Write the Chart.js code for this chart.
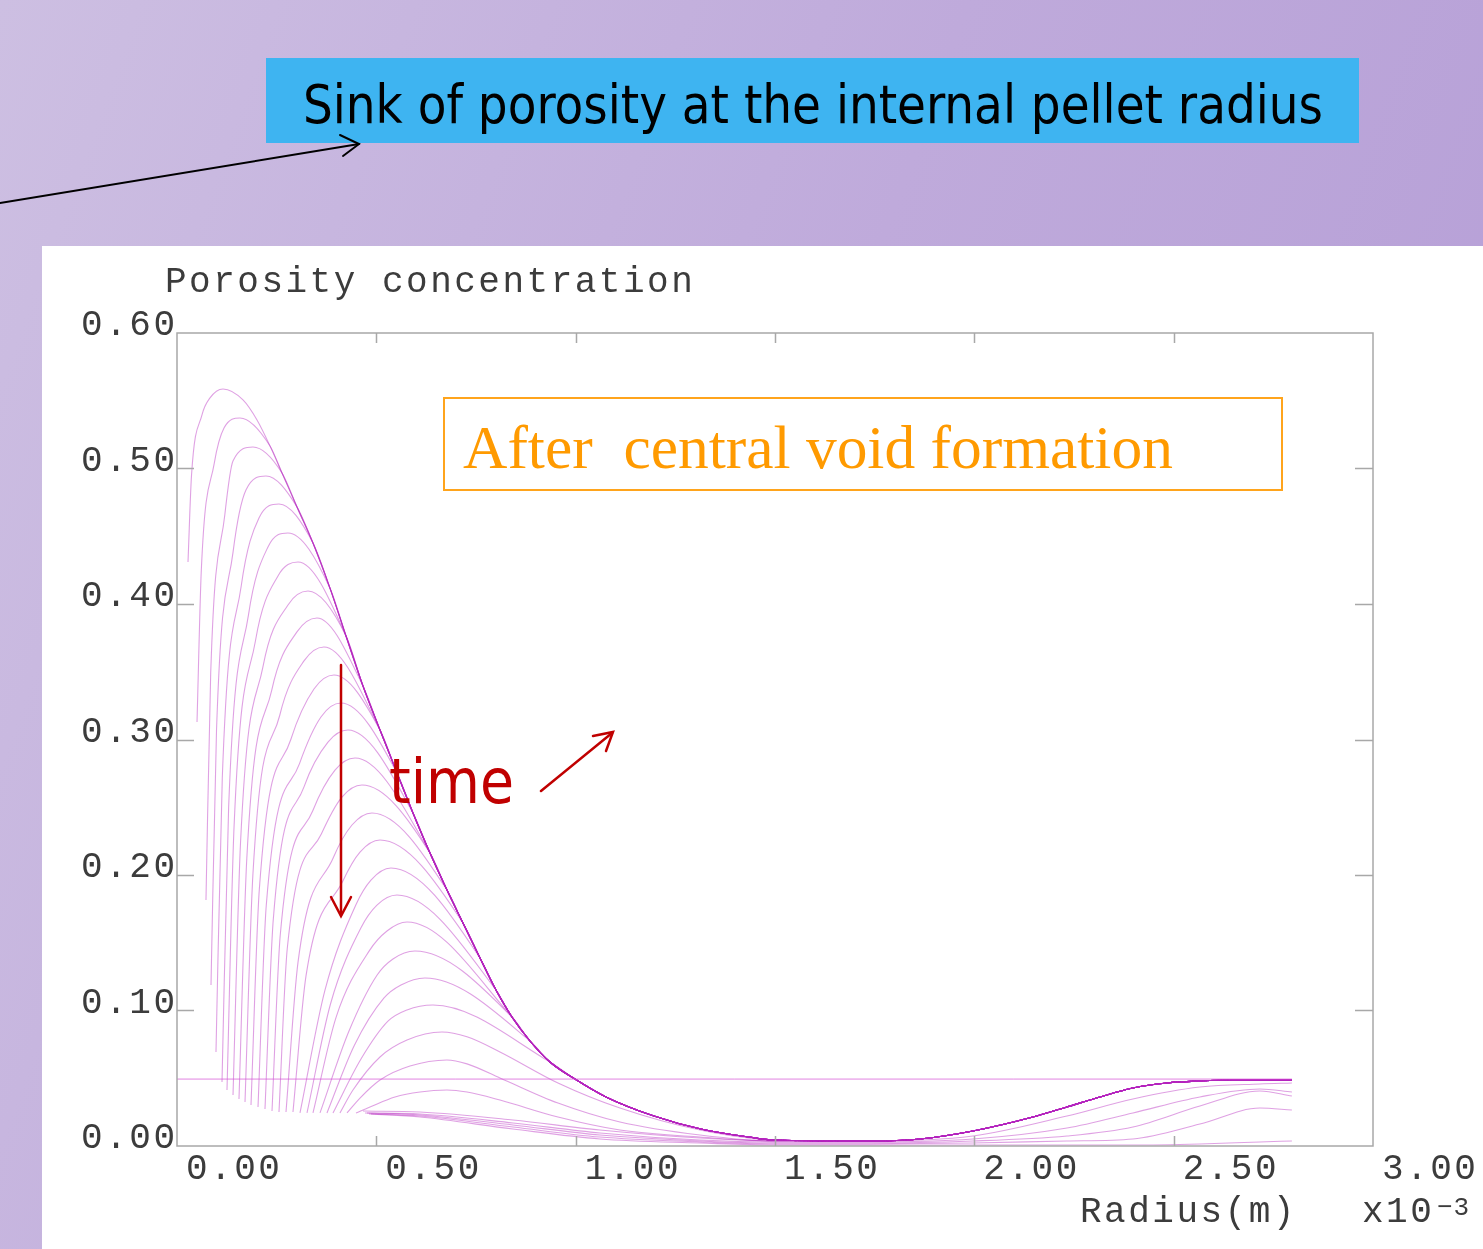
<!DOCTYPE html>
<html>
<head>
<meta charset="utf-8">
<script src="https://cdn.jsdelivr.net/npm/chart.js@4.4.1/dist/chart.umd.min.js"></script>
<style>
  html, body { margin: 0; padding: 0; }
  body {
    width: 1483px; height: 1249px; position: relative; overflow: hidden;
    background: linear-gradient(110deg, #cdbfe2 0%, #bfaadb 50%, #b49dd6 100%);
  }
  #panel { position: absolute; left: 42px; top: 246px; width: 1441px; height: 1003px; background: #fff; }
  #plotWrap { position: relative; width: 1441px; height: 1003px; }
  #banner { position: absolute; left: 266px; top: 58px; width: 1093px; height: 85px; background: #3eb4f1; }
  #afterBox { position: absolute; left: 443px; top: 397px; width: 840px; height: 94px;
              box-sizing: border-box; border: 2px solid #ffa41c; z-index: 3; }
  .txt { position: absolute; white-space: pre; line-height: 1; margin: 0; padding: 0;
         transform-origin: 0 0; z-index: 4; }
  #sink { font-family: "DejaVu Sans Condensed", "DejaVu Sans", sans-serif; color: #000; }
  #after { font-family: "Liberation Serif", "Times New Roman", serif; color: #ff9a00; }
  #time { font-family: "DejaVu Sans Condensed", "DejaVu Sans", sans-serif; color: #c00000; }
  #arrows { position: absolute; left: 0; top: 0; z-index: 5; pointer-events: none; }
</style>
</head>
<body>
<div id="banner"></div>
<div id="panel"><div id="plotWrap"><canvas id="plot"></canvas></div></div>
<div id="afterBox"></div>
<span class="txt" id="sink">Sink of porosity at the internal pellet radius</span>
<span class="txt" id="after">After  central void formation</span>
<span class="txt" id="time">time</span>
<svg id="arrows" width="1483" height="1249">
  <g fill="none" stroke="#000" stroke-width="2" stroke-linecap="round">
    <line x1="0" y1="203" x2="359" y2="144"/>
    <polyline points="340,135 359,144 343,156"/>
  </g>
  <g fill="none" stroke="#c00000" stroke-width="2.5" stroke-linecap="round">
    <line x1="341" y1="665" x2="341" y2="915"/>
    <polyline points="331,897 341,916 351,897"/>
    <line x1="541" y1="791" x2="612" y2="733"/>
    <polyline points="593,736 613,732 606,751"/>
  </g>
</svg>
<script>
// ── Axis ticks ───────────────────────────────────────────────────
const xTickValues = [0, 0.5, 1, 1.5, 2, 2.5, 3];
const xTickLabels = ["0.00", "0.50", "1.00", "1.50", "2.00", "2.50", "3.00"];
const yTickValues = [0, 0.1, 0.2, 0.3, 0.4, 0.5, 0.6];
const yTickLabels = ["0.00", "0.10", "0.20", "0.30", "0.40", "0.50", "0.60"];

// ── Initial porosity profile ─────────────────────────────────────
const initX = [0, 2.7966];
const initY = [0.0494, 0.0494];

// ── Common outer branch the profiles collapse onto ──────────────
const envelopeX = [0.1655, 0.2007, 0.2333, 0.2634, 0.3010, 0.3411, 0.3837, 0.4239, 0.4665, 0.5092,
                   0.5518, 0.5919, 0.6346, 0.6772, 0.7173, 0.7600, 0.8001, 0.8402, 0.8854, 0.9355,
                   0.9982, 1.0760, 1.1964, 1.3143, 1.4347, 1.4974, 1.7381, 1.8636, 1.9965, 2.1470,
                   2.2323, 2.3150, 2.3978, 2.4831, 2.5658, 2.6486, 2.7966];
const envelopeY = [0.5506, 0.5358, 0.5166, 0.4967, 0.4716, 0.4450, 0.4117, 0.3764, 0.3395, 0.3070,
                   0.2753, 0.2458, 0.2162, 0.1889, 0.1646, 0.1387, 0.1151, 0.0952, 0.0775, 0.0620,
                   0.0494, 0.0362, 0.0221, 0.0125, 0.0066, 0.0044, 0.0037, 0.0052, 0.0111, 0.0214,
                   0.0288, 0.0362, 0.0428, 0.0465, 0.0480, 0.0487, 0.0487];

// ── Profiles with a peak (one per time step) ─────────────────────
const startX = [0.0276, 0.0502, 0.0727, 0.0853, 0.0978, 0.1129, 0.1254, 0.1405, 0.1555, 0.1706,
                0.1856, 0.2032, 0.2207, 0.2383, 0.2558, 0.2734, 0.2909, 0.3085, 0.3261, 0.3411,
                0.3587, 0.3762, 0.3913, 0.4088, 0.4264, 0.4490];
const startY = [0.4310, 0.3129, 0.1815, 0.1188, 0.0694, 0.0472, 0.0413, 0.0376, 0.0347, 0.0325,
                0.0303, 0.0288, 0.0273, 0.0258, 0.0251, 0.0251, 0.0251, 0.0244, 0.0244, 0.0244,
                0.0244, 0.0244, 0.0244, 0.0244, 0.0244, 0.0244];
const riseAX = [0.0364, 0.0610, 0.0845, 0.0991, 0.1136, 0.1295, 0.1432, 0.1593, 0.1751, 0.1904,
                0.2064, 0.2240, 0.2415, 0.2591, 0.2766, 0.3035, 0.3236, 0.3710, 0.3850, 0.3988,
                0.4304, 0.4447, 0.4615, 0.4414, 0.4590, 0.4841];
const riseAY = [0.4949, 0.4251, 0.3487, 0.3067, 0.2716, 0.2498, 0.2362, 0.2236, 0.2122, 0.2004,
                0.1890, 0.1779, 0.1672, 0.1561, 0.1458, 0.1355, 0.1255, 0.1148, 0.1048, 0.0948,
                0.0841, 0.0742, 0.0642, 0.0413, 0.0354, 0.0288];
const riseBX = [0.0627, 0.0933, 0.1199, 0.1405, 0.1610, 0.1791, 0.1966, 0.2157, 0.2377, 0.2578,
                0.2855, 0.3073, 0.3186, 0.3403, 0.3620, 0.3920, 0.4164, 0.4488, 0.4615, 0.4826,
                0.5016, 0.5188, 0.5292, 0.5092, 0.5092, 0.5468];
const riseBY = [0.5395, 0.5036, 0.4657, 0.4381, 0.4131, 0.3916, 0.3725, 0.3538, 0.3365, 0.3179,
                0.3000, 0.2822, 0.2650, 0.2472, 0.2302, 0.2127, 0.1957, 0.1781, 0.1611, 0.1442,
                0.1260, 0.1091, 0.0921, 0.0657, 0.0487, 0.0362];
const riseCX = [0.0828, 0.1179, 0.1404, 0.1730, 0.2056, 0.2282, 0.2533, 0.2784, 0.3009, 0.3185,
                0.3436, 0.3611, 0.3787, 0.3963, 0.4138, 0.4389, 0.4590, 0.4865, 0.5016, 0.5267,
                0.5417, 0.5618, 0.5769, 0.5769, 0.5844, 0.6095];
const riseCY = [0.5521, 0.5299, 0.5056, 0.4842, 0.4635, 0.4421, 0.4207, 0.3993, 0.3794, 0.3580,
                0.3373, 0.3166, 0.2981, 0.2774, 0.2575, 0.2369, 0.2169, 0.1963, 0.1778, 0.1587,
                0.1380, 0.1188, 0.1004, 0.0782, 0.0590, 0.0399];
const peakX = [0.1154, 0.1580, 0.1906, 0.2232, 0.2558, 0.2784, 0.3035, 0.3286, 0.3511, 0.3687,
               0.3938, 0.4113, 0.4289, 0.4465, 0.4640, 0.4891, 0.5092, 0.5367, 0.5518, 0.5769,
               0.5969, 0.6220, 0.6421, 0.6647, 0.6772, 0.6772];
const peakY = [0.5587, 0.5373, 0.5159, 0.4945, 0.4738, 0.4524, 0.4310, 0.4096, 0.3897, 0.3683,
               0.3476, 0.3269, 0.3070, 0.2863, 0.2664, 0.2458, 0.2258, 0.2052, 0.1852, 0.1653,
               0.1439, 0.1240, 0.1041, 0.0841, 0.0635, 0.0413];
// point of the common branch where each of the first 23 profiles rejoins it
const joinIndex = [0, 2, 3, 4, 5, 6, 7, 7, 8, 9, 9, 10, 11, 12, 12, 13, 14, 15, 16, 17, 17, 18, 19];

// Last three peaked profiles run below the common branch
const lateTailX = [0.7274, 0.8101, 0.9556, 1.1111, 1.3118, 1.4974];
const lateTailY = [
  [0.0806, 0.0694, 0.0465, 0.0280, 0.0118, 0.0044],
  [0.0606, 0.0502, 0.0317, 0.0177, 0.0081, 0.0037],
  [0.0398, 0.0339, 0.0214, 0.0118, 0.0066, 0.0037],
];

// ── Final depleted profiles ──────────────────────────────────────
const clusterStartX = [0.4665, 0.4715, 0.4765, 0.4816, 0.4866];
const clusterStartY = [0.0258, 0.0244, 0.0244, 0.0236, 0.0236];
const clusterX = [0.6095, 0.8427, 1.0610, 1.3118, 1.4974, 1.7381, 1.9965, 2.2323, 2.3978, 2.5658, 2.7163, 2.7966];
const clusterY = [
  [0.0251, 0.0192, 0.0118, 0.0059, 0.0037, 0.0037, 0.0074, 0.0221, 0.0347, 0.0435, 0.0458, 0.0465],
  [0.0236, 0.0170, 0.0096, 0.0044, 0.0030, 0.0030, 0.0052, 0.0133, 0.0244, 0.0362, 0.0421, 0.0399],
  [0.0229, 0.0155, 0.0081, 0.0037, 0.0022, 0.0022, 0.0037, 0.0074, 0.0140, 0.0295, 0.0406, 0.0369],
  [0.0221, 0.0140, 0.0066, 0.0030, 0.0015, 0.0015, 0.0022, 0.0037, 0.0052, 0.0162, 0.0280, 0.0266],
  [0.0214, 0.0125, 0.0052, 0.0022, 0.0007, 0.0007, 0.0007, 0.0007, 0.0007, 0.0015, 0.0030, 0.0037],
];

const LINE = "rgba(180, 36, 190, 0.43)";
const pts = (xs, ys) => xs.map((x, i) => ({ x, y: ys[i] }));
const envelope = pts(envelopeX, envelopeY);

function buildDatasets() {
  const sets = [];
  sets.push({ data: pts(initX, initY), borderColor: "rgba(212, 80, 214, 0.7)", borderWidth: 1 });

  peakX.forEach((px, k) => {
    const head = [
      { x: startX[k], y: startY[k] },
      { x: riseAX[k], y: riseAY[k] },
      { x: riseBX[k], y: riseBY[k] },
      { x: riseCX[k], y: riseCY[k] },
      { x: px, y: peakY[k] },
    ];
    let tail;
    if (k < joinIndex.length) {
      tail = envelope.slice(joinIndex[k]);
    } else {
      const late = k - joinIndex.length;
      const last = lateTailX[lateTailX.length - 1];
      tail = pts(lateTailX, lateTailY[late]).concat(envelope.filter(p => p.x > last + 0.1));
    }
    sets.push({ data: head.concat(tail), borderColor: LINE });
  });

  clusterY.forEach((ys, k) => {
    sets.push({ data: [{ x: clusterStartX[k], y: clusterStartY[k] }].concat(pts(clusterX, ys)), borderColor: LINE });
  });
  return sets;
}

// Frame, inward ticks, tick labels and axis titles
const framePlugin = {
  id: "frame",
  afterDatasetsDraw(chart) {
    const ctx = chart.ctx;
    const { left, right, top, bottom } = chart.chartArea;
    const xs = chart.scales.x, ys = chart.scales.y;
    ctx.save();
    ctx.strokeStyle = "#a8a8a8";
    ctx.lineWidth = 1.5;
    ctx.strokeRect(left, top, right - left, bottom - top);
    ctx.beginPath();
    xTickValues.slice(1, -1).forEach(v => {
      const p = Math.round(xs.getPixelForValue(v)) + 0.5;
      ctx.moveTo(p, top); ctx.lineTo(p, top + 10);
      ctx.moveTo(p, bottom); ctx.lineTo(p, bottom - 10);
    });
    yTickValues.slice(1, -1).forEach(v => {
      const p = Math.round(ys.getPixelForValue(v)) + 0.5;
      ctx.moveTo(left, p); ctx.lineTo(left + 17, p);
      ctx.moveTo(right, p); ctx.lineTo(right - 18, p);
    });
    ctx.stroke();

    ctx.fillStyle = "#3c3c3c";
    ctx.font = '36px "Liberation Mono", "DejaVu Sans Mono", monospace';
    ctx.letterSpacing = "2.5px";
    ctx.textBaseline = "alphabetic";
    ctx.textAlign = "right";
    yTickValues.forEach((v, i) => {
      ctx.fillText(yTickLabels[i], left + 0.5, ys.getPixelForValue(v) + 2);
    });
    ctx.textAlign = "left";
    xTickValues.forEach((v, i) => {
      ctx.fillText(xTickLabels[i], xs.getPixelForValue(v) + 9, bottom + 33);
    });
    ctx.fillText("Porosity concentration", left - 12, top - 41);
    ctx.fillText("Radius(m)", right - 293, bottom + 76);
    ctx.fillText("x10", right - 11, bottom + 76);
    ctx.font = '26px "Liberation Mono", "DejaVu Sans Mono", monospace';
    ctx.letterSpacing = "1px";
    ctx.fillText("\u22123", right + 64, bottom + 69);
    ctx.restore();
  }
};

new Chart(document.getElementById("plot"), {
  type: "line",
  data: { datasets: buildDatasets() },
  plugins: [framePlugin],
  options: {
    responsive: true,
    maintainAspectRatio: false,
    animation: false,
    layout: { padding: { left: 135, top: 87, right: 110, bottom: 103 } },
    plugins: { legend: { display: false }, tooltip: { enabled: false } },
    elements: {
      point: { radius: 0, hoverRadius: 0 },
      line: { borderWidth: 1.1, cubicInterpolationMode: "monotone", fill: false },
    },
    scales: {
      x: { type: "linear", min: 0, max: 3, display: false },
      y: { type: "linear", min: 0, max: 0.6, display: false },
    },
  },
});

// Place an annotation text by its left edge and baseline, fitted to a width
function placeText(id, left, baseline, width, size, fitBySize) {
  const el = document.getElementById(id);
  el.style.fontSize = size + "px";
  if (fitBySize) {
    const w0 = el.getBoundingClientRect().width;
    el.style.fontSize = (size * width / w0) + "px";
  }
  const probe = document.createElement("span");
  probe.style.cssText = "display:inline-block;width:0;height:0";
  el.appendChild(probe);
  const r = el.getBoundingClientRect();
  const base = probe.getBoundingClientRect().top - r.top;
  el.style.left = left + "px";
  el.style.top = (baseline - base) + "px";
  if (!fitBySize) el.style.transform = `scaleX(${width / r.width})`;
}
placeText("sink", 303, 123, 1020, 54, false);
placeText("after", 463, 468, 710, 64, true);
placeText("time", 389, 803, 125, 63, false);
</script>
</body>
</html>
